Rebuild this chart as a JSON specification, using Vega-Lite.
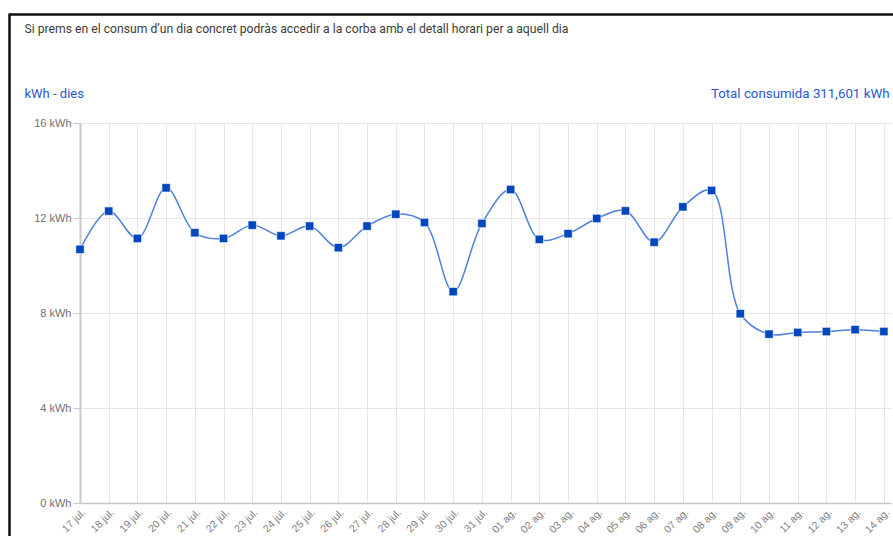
{
  "$schema": "https://vega.github.io/schema/vega-lite/v6.json",
  "autosize": {"type": "none"},
  "padding": {"left": 80, "top": 123, "right": 2, "bottom": 33},
  "width": 811,
  "height": 380,
  "background": "#ffffff",
  "config": {
    "view": {"stroke": null},
    "axis": {"labelFont": "Liberation Sans", "titleFont": "Roboto", "titleFontWeight": "normal"}
  },
  "data": {
    "values": [
      {"d": "2023-07-17", "kwh": 10.68},
      {"d": "2023-07-18", "kwh": 12.29},
      {"d": "2023-07-19", "kwh": 11.14},
      {"d": "2023-07-20", "kwh": 13.27},
      {"d": "2023-07-21", "kwh": 11.38},
      {"d": "2023-07-22", "kwh": 11.14},
      {"d": "2023-07-23", "kwh": 11.70},
      {"d": "2023-07-24", "kwh": 11.25},
      {"d": "2023-07-25", "kwh": 11.66},
      {"d": "2023-07-26", "kwh": 10.75},
      {"d": "2023-07-27", "kwh": 11.66},
      {"d": "2023-07-28", "kwh": 12.16},
      {"d": "2023-07-29", "kwh": 11.81},
      {"d": "2023-07-30", "kwh": 8.90},
      {"d": "2023-07-31", "kwh": 11.77},
      {"d": "2023-08-01", "kwh": 13.20},
      {"d": "2023-08-02", "kwh": 11.10},
      {"d": "2023-08-03", "kwh": 11.34},
      {"d": "2023-08-04", "kwh": 11.98},
      {"d": "2023-08-05", "kwh": 12.30},
      {"d": "2023-08-06", "kwh": 10.98},
      {"d": "2023-08-07", "kwh": 12.47},
      {"d": "2023-08-08", "kwh": 13.16},
      {"d": "2023-08-09", "kwh": 7.97},
      {"d": "2023-08-10", "kwh": 7.11},
      {"d": "2023-08-11", "kwh": 7.18},
      {"d": "2023-08-12", "kwh": 7.22},
      {"d": "2023-08-13", "kwh": 7.30},
      {"d": "2023-08-14", "kwh": 7.22}
    ]
  },
  "resolve": {"axis": {"x": "independent", "y": "independent"}},
  "layer": [
    {
      "mark": {"type": "line", "interpolate": "catmull-rom", "color": "#4f80da", "strokeWidth": 1.5},
      "encoding": {
        "x": {
          "field": "d", "type": "temporal",
          "scale": {"type": "utc", "domain": [{"year": 2023, "month": 7, "date": 17, "utc": true}, {"year": 2023, "month": 8, "date": 14, "hours": 6, "utc": true}]},
          "axis": {
            "title": null,
            "tickCount": {"interval": "day", "step": 1},
            "labelExpr": "utcFormat(datum.value, '%d') + (utcmonth(datum.value) == 6 ? ' jul.' : ' ag.')",
            "labelAngle": -45, "labelAlign": "right", "labelBaseline": "top",
            "labelFontSize": 10.5, "labelColor": "#808080", "labelPadding": 4,
            "labelOverlap": false, "labelFlush": false,
            "ticks": false,
            "grid": true, "gridColor": "#e6e6e6", "gridWidth": 1,
            "domain": true, "domainColor": "#c8c8c8", "domainWidth": 1.5
          }
        },
        "y": {
          "field": "kwh", "type": "quantitative",
          "scale": {"domain": [0, 16], "nice": false},
          "axis": {
            "values": [0, 4, 8, 12, 16],
            "labelExpr": "datum.value + ' kWh'",
            "labelFontSize": 11, "labelColor": "#707070", "labelPadding": 2,
            "ticks": true, "tickSize": 7, "tickColor": "#cccccc",
            "grid": true, "gridColor": "#e6e6e6",
            "domain": true, "domainColor": "#c8c8c8", "domainWidth": 2,
            "title": "kWh - dies", "titleAngle": 0, "titleAlign": "left", "titleBaseline": "middle",
            "titleX": -56, "titleY": -30, "titleColor": "#2a58cf", "titleFontSize": 13
          }
        }
      }
    },
    {
      "mark": {"type": "square", "size": 70, "filled": true, "color": "#0047bd", "opacity": 1, "stroke": "#ffffff", "strokeWidth": 0.6},
      "encoding": {
        "x": {
          "field": "d", "type": "temporal",
          "scale": {"type": "utc", "domain": [{"year": 2023, "month": 7, "date": 17, "utc": true}, {"year": 2023, "month": 8, "date": 14, "hours": 6, "utc": true}]},
          "axis": {
            "orient": "top", "offset": -413,
            "values": [{"year": 2023, "month": 7, "date": 17, "utc": true}],
            "labels": false, "grid": false, "domain": false,
            "ticks": true, "tickColor": "#111111", "tickWidth": 2.5, "tickSize": 523, "tickOffset": -71,
            "title": "Si prems en el consum d’un dia concret podràs accedir a la corba amb el detall horari per a aquell dia",
            "titleAngle": 0, "titleAlign": "left", "titleBaseline": "middle",
            "titleX": -56, "titleY": -508, "titleColor": "#3c3c3c", "titleFontSize": 12.2
          }
        },
        "y": {
          "field": "kwh", "type": "quantitative",
          "scale": {"domain": [0, 16], "nice": false},
          "axis": {
            "orient": "right", "offset": -882,
            "values": [16],
            "labels": false, "grid": false, "domain": false,
            "ticks": true, "tickColor": "#111111", "tickWidth": 2.5, "tickSize": 890, "tickOffset": -109.5,
            "title": "Total consumida  311,601 kWh",
            "titleAngle": 0, "titleAlign": "right", "titleBaseline": "middle",
            "titleX": 880, "titleY": -30, "titleColor": "#2a58cf", "titleFontSize": 13.3
          }
        }
      }
    }
  ]
}
